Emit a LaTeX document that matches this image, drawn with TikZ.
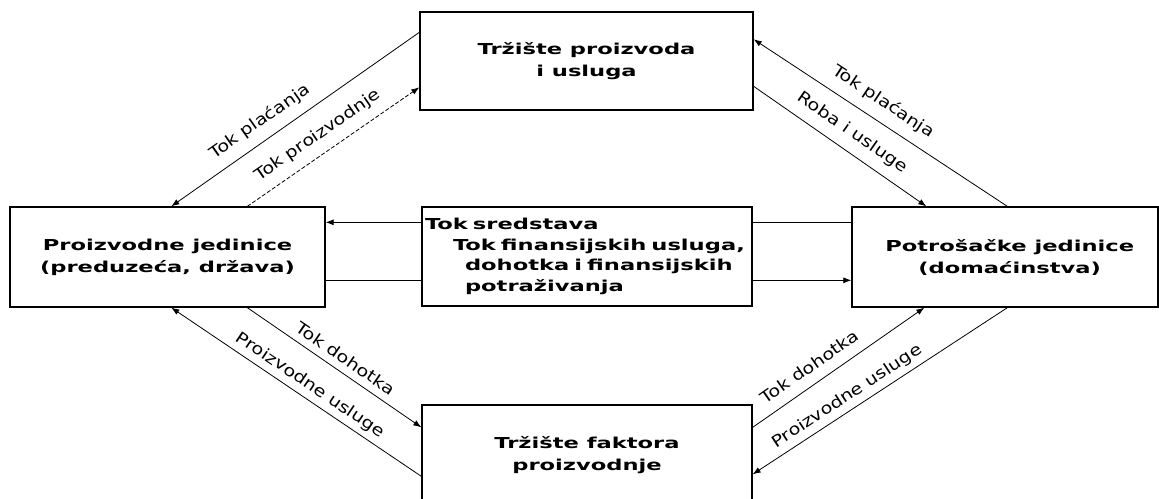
\documentclass[tikz,border=0pt]{standalone}
\usepackage{fontspec}
\usetikzlibrary{arrows.meta,calc}
\newfontfamily\boxfont[FakeStretch=1.5]{DejaVu Sans}
\newfontfamily\lblfont[FakeStretch=1.2]{DejaVu Sans}
\newcommand{\pxu}{0.75pt}
\begin{document}
\begin{tikzpicture}[x=0.75pt,y=-0.75pt,
  box/.style={draw, line width=1pt, rectangle, inner sep=0pt, align=center,
    font=\boxfont\bfseries\fontsize{11.3}{16.5}\selectfont},
  flow/.style={line width=0.6pt},
  lbl/.style={sloped, inner sep=0pt, above=#1,
    font=\lblfont\fontsize{12}{14}\selectfont},
  lbl/.default=6.5pt,
  >={Latex[length=6pt,width=4.5pt]}]
\useasboundingbox (0,0) rectangle (1159,499);
\clip (0,0) rectangle (1159,499);

% sectors
\node[box, minimum width=333*\pxu, minimum height=98*\pxu] (T) at (586.5,61) {Tržište proizvoda\\i usluga};
\node[box, minimum width=315*\pxu, minimum height=100*\pxu] (L) at (167.5,257) {Proizvodne jedinice\\(preduzeća, država)};
\node[box, minimum width=306*\pxu, minimum height=100*\pxu] (R) at (1005,257) {\hspace*{7pt}Potrošačke jedinice\\\hspace*{7pt}(domaćinstva)};
\node[box, minimum width=330*\pxu, minimum height=100*\pxu] (B) at (587,455) {Tržište faktora\\proizvodnje};
\node[box, minimum width=330*\pxu, minimum height=99*\pxu, align=left,
  text width=324*\pxu, inner xsep=3*\pxu,
  font=\boxfont\bfseries\fontsize{11.3}{15.5}\selectfont] (M) at (587,256.5)
  {Tok sredstava\\
   \hspace*{21pt}Tok finansijskih usluga,\\
   \hspace*{30pt}dohotka i finansijskih\\
   \hspace*{30pt}potraživanja};

% connector end points on the box edges
\coordinate (lt1) at ($(L.north west)+(162,0)$);
\coordinate (lt2) at ($(L.north west)+(238,0)$);
\coordinate (lb1) at ($(L.south west)+(162,0)$);
\coordinate (lb2) at ($(L.south west)+(238,0)$);
\coordinate (tl1) at ($(T.north west)+(0,21)$);
\coordinate (tl2) at ($(T.north west)+(0,76)$);
\coordinate (tr1) at ($(T.north east)+(0,28)$);
\coordinate (tr2) at ($(T.north east)+(0,75)$);
\coordinate (rt1) at ($(R.north west)+(75,0)$);
\coordinate (rt2) at ($(R.north west)+(156,0)$);
\coordinate (rb1) at ($(R.south west)+(73,0)$);
\coordinate (rb2) at ($(R.south west)+(156,0)$);
\coordinate (bl1) at ($(B.north west)+(0,23)$);
\coordinate (bl2) at ($(B.north west)+(0,72)$);
\coordinate (br1) at ($(B.north east)+(0,23)$);
\coordinate (br2) at ($(B.north east)+(0,70)$);
\coordinate (m1) at ($(M.north west)+(0,16)$);
\coordinate (m2) at ($(M.north west)+(0,74)$);
\coordinate (m3) at ($(M.north east)+(0,16)$);
\coordinate (m4) at ($(M.north east)+(0,74)$);

% flows between the sectors
\draw[flow,<-] (lt1) -- node[lbl=7.5pt,pos=0.40]{Tok plaćanja} (tl1);
\draw[flow,->,dash pattern=on 3pt off 1.5pt] (lt2) -- node[lbl=7.5pt,pos=0.47]{Tok proizvodnje} (tl2);
\draw[flow,<-] (tr1) -- node[lbl=8pt,pos=0.47]{Tok plaćanja} (rt2);
\draw[flow,->] (tr2) -- node[lbl=7.5pt,pos=0.51]{Roba i usluge} (rt1);
\draw[flow,->] (lb2) -- node[lbl=5.5pt,pos=0.52]{Tok dohotka} (bl1);
\draw[flow,<-] (lb1) -- node[lbl=3.8pt,pos=0.525]{Proizvodne usluge} (bl2);
\draw[flow,->] (br1) -- node[lbl=8pt,pos=0.39]{Tok dohotka} (rb1);
\draw[flow,<-] (br2) -- node[lbl=3.8pt,pos=0.40]{Proizvodne usluge} (rb2);

\draw[flow,->] (m1) -- (m1 -| L.east);
\draw[flow] (m2 -| L.east) -- (m2);
\draw[flow] (m3) -- (m3 -| R.west);
\draw[flow,->] (m4) -- (m4 -| R.west);
\end{tikzpicture}
\end{document}
